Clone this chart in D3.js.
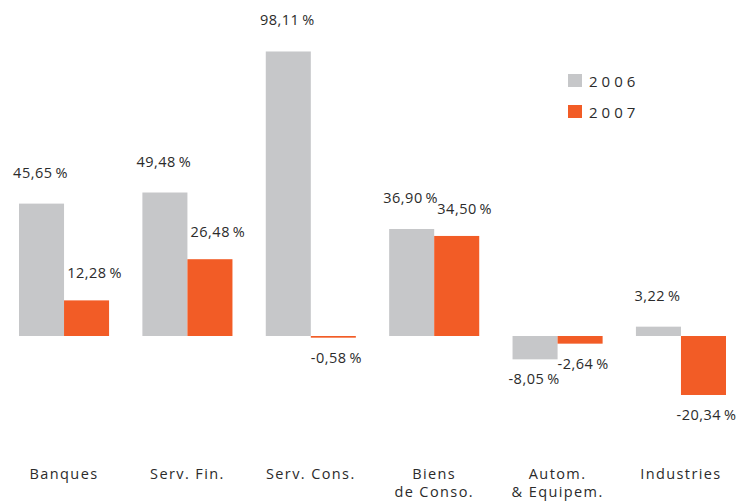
<!DOCTYPE html>
<html>
<head>
<meta charset="utf-8">
<script src="https://cdn.jsdelivr.net/npm/d3@7"></script>
<style>
  body { margin: 0; background: #fff; }
  svg text { font-family: "Open Sans", "Noto Sans", sans-serif; fill: #2b2b2b; }
</style>
</head>
<body>
<svg id="chart" width="738" height="504"></svg>
<script>
// Data
const categories = [["Banques"], ["Serv. Fin."], ["Serv. Cons."], ["Biens", "de Conso."], ["Autom.", "& Equipem."], ["Industries"]];
const years = ["2006", "2007"];
const values2006 = [45.65, 49.48, 98.11, 36.90, -8.05, 3.22];
const values2007 = [12.28, 26.48, -0.58, 34.50, -2.64, -20.34];
const colors = ["#c6c7c9", "#f25c26"];

const svg = d3.select("svg#chart");
const keys = categories.map(c => c.join(" "));

// Scales
const x = d3.scaleBand()
    .domain(keys)
    .range([19, 726])
    .paddingInner(0.27)
    .paddingOuter(0);

const xSeries = d3.scaleBand()
    .domain(years)
    .range([0, x.bandwidth()]);

const y = d3.scaleLinear()
    .domain([-40, 110])
    .range([452, 17]);

// french style numbers, plain hyphen for negatives
const locale = d3.formatLocale({ decimal: ",", thousands: " ", grouping: [3], currency: ["", ""], minus: "-" });
const fmt = v => locale.format(".2f")(v) + "\u2009%";

const seriesValues = [values2006, values2007];
const labelUp = [26, 22];
const labelDx = (s, v) => s === 0 ? -1 : (v >= 0 ? 8 : 3);

// Bars + labels per series
years.forEach((year, s) => {
    const data = seriesValues[s].map((v, i) => ({ key: keys[i], value: v }));
    const g = svg.append("g");

    g.selectAll("rect")
        .data(data)
        .enter()
        .append("rect")
        .attr("x", d => x(d.key) + xSeries(year))
        .attr("width", xSeries.bandwidth())
        .attr("y", d => y(Math.max(0, d.value)))
        .attr("height", d => Math.abs(y(d.value) - y(0)))
        .attr("fill", colors[s]);

    g.selectAll("text")
        .data(data)
        .enter()
        .append("text")
        .attr("x", d => x(d.key) + xSeries(year) + xSeries.bandwidth() / 2 + labelDx(s, d.value))
        .attr("y", d => d.value >= 0 ? y(d.value) - labelUp[s] : y(d.value) + 25)
        .attr("text-anchor", "middle")
        .attr("font-size", 14.5)
        .attr("letter-spacing", 0.5)
        .text(d => fmt(d.value));
});

// Category labels
const cat = svg.append("g")
    .selectAll("text")
    .data(categories)
    .enter()
    .append("text")
    .attr("text-anchor", "middle")
    .attr("font-size", 14.5)
    .attr("letter-spacing", 1.4)
    .attr("x", (d, i) => x(keys[i]) + x.bandwidth() / 2)
    .attr("y", 479);

cat.selectAll("tspan")
    .data(d => d)
    .enter()
    .append("tspan")
    .attr("x", function () { return d3.select(this.parentNode).attr("x"); })
    .attr("dy", (d, i) => i === 0 ? 0 : 18)
    .text(d => d);

// Legend
const legend = svg.append("g").attr("transform", "translate(568,74)");
const item = legend.selectAll("g")
    .data(years)
    .enter()
    .append("g")
    .attr("transform", (d, i) => "translate(0," + i * 31 + ")");

item.append("rect")
    .attr("width", 14)
    .attr("height", 13)
    .attr("fill", (d, i) => colors[i]);

item.append("text")
    .attr("x", 21)
    .attr("y", 12.5)
    .attr("font-size", 15)
    .attr("letter-spacing", 4)
    .text(d => d);
</script>
</body>
</html>
